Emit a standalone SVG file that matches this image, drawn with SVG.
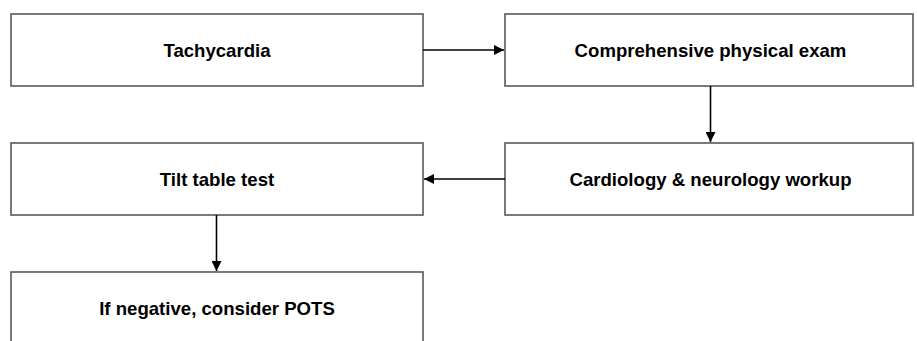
<svg xmlns="http://www.w3.org/2000/svg" width="917" height="341" viewBox="0 0 917 341">
<defs>
<style>
.box{fill:#fff;stroke:#595959;stroke-width:1.6}
.lbl{font-family:"Liberation Sans",Arial,sans-serif;font-weight:bold;font-size:18.6px;fill:#000;text-anchor:middle}
.edge{stroke:#000;stroke-width:1.6;fill:none}
</style>
<marker id="ah" viewBox="0 0 10 10" refX="10" refY="5" markerWidth="10" markerHeight="10" markerUnits="userSpaceOnUse" orient="auto">
<path d="M0,0 L10,5 L0,10 Z" fill="#000"/>
</marker>
</defs>
<rect width="917" height="341" fill="#fff"/>
<g id="n1"><rect class="box" x="11" y="14" width="412" height="72"/><text class="lbl" x="217" y="57">Tachycardia</text></g>
<g id="n2"><rect class="box" x="505" y="14" width="408" height="72"/><text class="lbl" x="710.5" y="57">Comprehensive physical exam</text></g>
<g id="n3"><rect class="box" x="11" y="143" width="412" height="72"/><text class="lbl" x="217" y="186">Tilt table test</text></g>
<g id="n4"><rect class="box" x="505" y="143" width="408" height="72"/><text class="lbl" x="710.5" y="186">Cardiology &amp; neurology workup</text></g>
<g id="n5"><rect class="box" x="11" y="272" width="412" height="72"/><text class="lbl" x="217" y="315">If negative, consider POTS</text></g>
<g id="edges">
<line class="edge" x1="423" y1="50" x2="504" y2="50" marker-end="url(#ah)"/>
<line class="edge" x1="710.5" y1="86" x2="710.5" y2="142" marker-end="url(#ah)"/>
<line class="edge" x1="505" y1="179" x2="424" y2="179" marker-end="url(#ah)"/>
<line class="edge" x1="216.5" y1="215" x2="216.5" y2="271" marker-end="url(#ah)"/>
</g>
</svg>
